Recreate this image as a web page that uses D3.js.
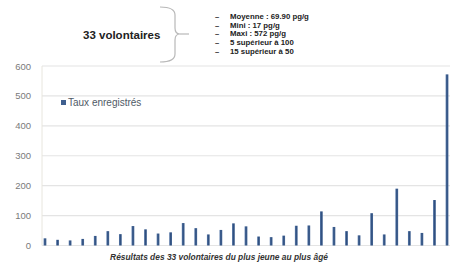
<!DOCTYPE html>
<html><head><meta charset="utf-8">
<script src="https://cdn.jsdelivr.net/npm/d3@7"></script>
<style>html,body{margin:0;padding:0;background:#fff;}svg{display:block;font-family:"Liberation Sans",Arial,sans-serif;}</style>
</head><body>
<svg id="c" width="450" height="263"></svg>
<script>
const categories = d3.range(1, 34).map(String);
const values = [24,19,17,22,32,48,38,65,54,40,44,75,58,37,52,74,64,30,28,33,66,67,114,62,48,34,108,37,190,48,42,152,572];
const yTicks = [0,100,200,300,400,500,600];
const seriesName = "Taux enregistrés";
const title = "33 volontaires";
const notes = ["Moyenne : 69.90 pg/g","Mini : 17 pg/g","Maxi : 572 pg/g","5 supérieur à 100","15 supérieur à 50"];
const xTitle = "Résultats des 33 volontaires du plus jeune au plus âgé";

const svg = d3.select("#c");
const x = d3.scaleBand().domain(categories).range([38.7, 453.3]).paddingInner(0.78).paddingOuter(0.39);
const y = d3.scaleLinear().domain([0,600]).range([245.5, 66]);

// gridlines
svg.append("g").selectAll("line").data(yTicks).join("line")
  .attr("x1", 42).attr("x2", 450).attr("y1", d=>y(d)).attr("y2", d=>y(d))
  .attr("stroke", "#e4e4e4").attr("stroke-width", 1.2);
// y axis line
svg.append("line").attr("x1",42).attr("x2",42).attr("y1",y(600)).attr("y2",y(0)).attr("stroke","#e8e6de").attr("stroke-width",1);

// y labels
const ya = svg.append("g").attr("transform","translate(31,0)")
  .call(d3.axisLeft(y).tickValues(yTicks).tickSize(0).tickPadding(0));
ya.select(".domain").remove();
ya.selectAll("text").attr("fill","#7a7a7a").attr("font-size",9.5).attr("font-family","Liberation Sans, Arial, sans-serif");

// gradient for bars
const defs = svg.append("defs");
const g = defs.append("linearGradient").attr("id","bg").attr("x1","0").attr("x2","1").attr("y1","0").attr("y2","0");
g.append("stop").attr("offset","0").attr("stop-color","#5a7bab");
g.append("stop").attr("offset","0.5").attr("stop-color","#2f4f7f");
g.append("stop").attr("offset","1").attr("stop-color","#4a6a98");

svg.append("g").selectAll("rect").data(values).join("rect")
  .attr("x",(d,i)=>x(categories[i]))
  .attr("width",x.bandwidth())
  .attr("y",d=>y(d))
  .attr("height",d=>y(0)-y(d))
  .attr("fill","url(#bg)");

// legend
svg.append("rect").attr("x",61).attr("y",100).attr("width",5).attr("height",5).attr("fill","#3f5f8f");
svg.append("text").attr("x",68).attr("y",106).attr("font-size",10).attr("fill","#505a66").text(seriesName);

// x title
svg.append("text").attr("x",219).attr("y",259.5).attr("text-anchor","middle")
  .attr("font-size",8.4).attr("font-style","italic").attr("font-weight","bold").attr("fill","#333").text(xTitle);

// header text
svg.append("text").attr("x",83).attr("y",39).attr("font-size",11.5).attr("font-weight","bold").attr("fill","#222").text(title);
// brace
svg.append("path")
  .attr("d","M160,7 Q175,7 175,15 L175,28 Q175,34 180,34 Q175,34 175,40 L175,54 Q175,62 160,62")
  .attr("fill","none").attr("stroke","#b8b8b8").attr("stroke-width",1.2);
svg.append("line").attr("x1",180).attr("x2",189).attr("y1",34).attr("y2",34).attr("stroke","#b8b8b8").attr("stroke-width",1.2);

const ny = [17,25.5,34,42.5,51.5];
const ng = svg.append("g");
notes.forEach((t,i)=>{
  ng.append("text").attr("x",215).attr("y",ny[i]+2).attr("font-size",7.5).attr("font-weight","bold").attr("fill","#222").text("–");
  ng.append("text").attr("x",230).attr("y",ny[i]+2).attr("font-size",7.8).attr("font-weight","bold").attr("fill","#222").text(t);
});
</script>
</body></html>
